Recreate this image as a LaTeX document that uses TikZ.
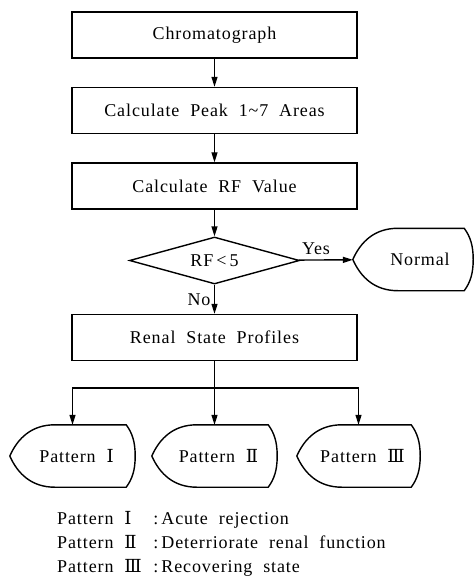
\documentclass[tikz,border=0pt]{standalone}
\usepackage{fontspec}
\setmainfont{Liberation Serif}[LetterSpace=5,WordSpace=2]
\newfontfamily\romfont{DejaVu Serif}
\usetikzlibrary{arrows.meta,shapes.geometric}

% display-shaped outline drawn round a named node
\newcommand{\dispoutline}[1]{%
  \draw[boxline] (#1.west) .. controls ([shift={(8,-18)}]#1.west) and ([shift={(22,0)}]#1.north west) .. ([shift={(45,0)}]#1.north west)
    -- ([shift={(-9,0)}]#1.north east) .. controls ([shift={(-3,8)}]#1.north east) and ([shift={(0,-14)}]#1.east) .. (#1.east)
    .. controls ([shift={(0,14)}]#1.east) and ([shift={(-3,-8)}]#1.south east) .. ([shift={(-9,0)}]#1.south east)
    -- ([shift={(45,0)}]#1.south west) .. controls ([shift={(22,0)}]#1.south west) and ([shift={(8,18)}]#1.west) .. (#1.west) -- cycle;
}
\newcommand{\patname}[1]{\hspace*{8pt}Pattern\ {\romfont #1}}

\begin{document}
\begin{tikzpicture}[x=1pt, y=-1pt, font=\fontsize{18}{24}\selectfont,
  boxline/.style={line width=1.4pt},
  procbox/.style={draw, boxline, minimum width=285pt, minimum height=46pt, inner sep=0pt},
  decision/.style={draw, boxline, diamond, aspect=3.6, minimum width=170pt, minimum height=47pt, inner sep=0pt},
  dispnode/.style={minimum width=125pt, minimum height=62pt, inner sep=0pt},
  flow/.style={line width=1.4pt, -{Triangle[length=10pt,width=6pt]}}]
  \useasboundingbox (0,0) rectangle (474,577);

  \node[procbox] (chrom) at (214.5,35) {Chromatograph};
  \node[procbox] (peak) at (214.5,110.5) {Calculate Peak 1\textasciitilde 7 Areas};
  \node[procbox] (rf) at (214.5,186) {Calculate RF Value};
  \node[decision] (test) at (214.5,260.5) {RF\,<\,5};
  \node[dispnode, minimum width=120pt] (normal) at (413,259.5) {\hspace*{14pt}Normal};
  \dispoutline{normal}
  \node[procbox] (renal) at (214.5,337.5) {Renal State Profiles};

  \node[dispnode] (pat1) at (72.5,456) {\patname{Ⅰ}};
  \node[dispnode] (pat2) at (214.5,456) {\patname{Ⅱ}};
  \node[dispnode, minimum width=123pt] (pat3) at (358.5,456) {\patname{Ⅲ}};
  \dispoutline{pat1}
  \dispoutline{pat2}
  \dispoutline{pat3}

  \draw[flow] (chrom) -- (peak);
  \draw[flow] (peak) -- (rf);
  \draw[flow] (rf) -- (test);
  \draw[flow] (test) -- node[pos=0.32, above, yshift=1pt] {Yes} (normal);
  \draw[flow] (test) -- node[left] {No} (renal);

  \coordinate (split) at (214.5,388);
  \draw[boxline] (renal) -- (split);
  \draw[flow] (split) -| (pat1);
  \draw[flow] (split) -- (pat2);
  \draw[flow] (split) -| (pat3);

  \node[anchor=west, align=left, inner sep=0pt] (legend) at (57,543.5) {%
    Pattern\ \makebox[29pt][l]{\romfont Ⅰ}:\,Acute rejection\\
    Pattern\ \makebox[29pt][l]{\romfont Ⅱ}:\,Deterriorate renal function\\
    Pattern\ \makebox[29pt][l]{\romfont Ⅲ}:\,Recovering state};
\end{tikzpicture}
\end{document}
